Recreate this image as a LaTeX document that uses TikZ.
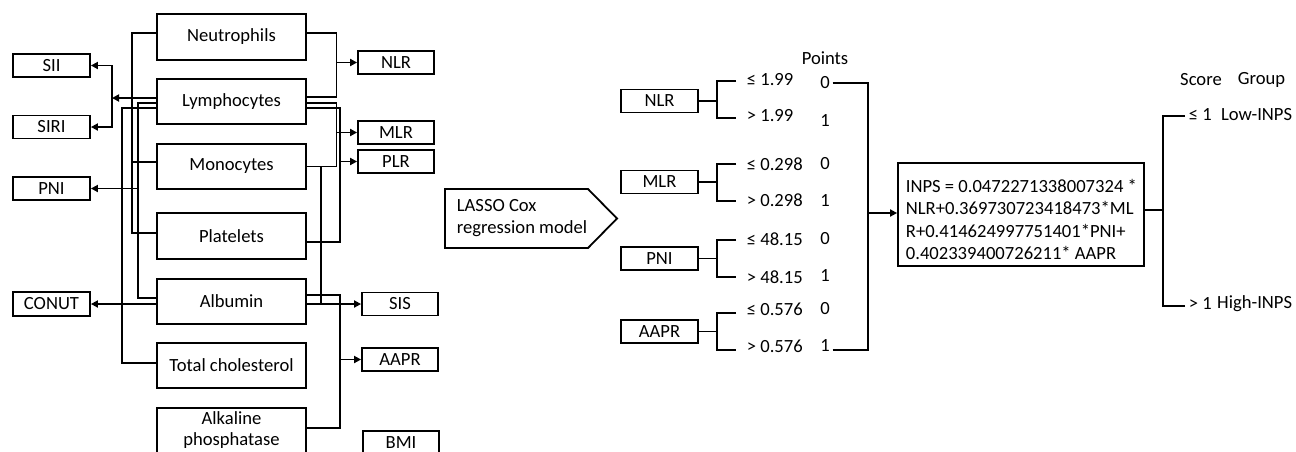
\documentclass[tikz,border=0pt]{standalone}
\usepackage{fontspec}
\setmainfont{Carlito}
\usetikzlibrary{arrows.meta}
\begin{document}
\begin{tikzpicture}[x=1pt,y=-1pt,line width=1.8pt,
  txt/.style={font=\fontsize{18.6}{22.4}\selectfont,inner sep=0pt},
  box/.style 2 args={draw,txt,minimum width=#1,minimum height=#2},
  arr/.style={-{Triangle[length=7pt,width=7pt]}}]
\useasboundingbox (0,0) rectangle (1296,451);
\clip (0,0) rectangle (1296,451);

% blood parameters
\node[box={149pt}{46pt}] (neu)  at (231.5,37)    {Neutrophils};
\node[box={149pt}{45pt}] (lym)  at (231.5,101.5) {Lymphocytes};
\node[box={149pt}{45pt}] (mono) at (231.5,166.5) {Monocytes};
\node[box={149pt}{46pt}] (plt)  at (231.5,236)   {Platelets};
\node[box={149pt}{45pt}] (alb)  at (231.5,301.5) {Albumin};
\node[box={149pt}{45pt}] (chol) at (231.5,365.5) {Total cholesterol};
\node[box={149pt}{45pt},align=center,font=\fontsize{18.6}{21}\selectfont] (alp) at (231.5,430.5) {Alkaline\\phosphatase};

% indices on the left
\node[box={77pt}{23pt}] (sii)   at (51.5,65.5) {SII};
\node[box={77pt}{23pt}] (siri)  at (51.5,127)  {SIRI};
\node[box={77pt}{23pt}] (pnil)  at (51.5,188.5){PNI};
\node[box={77pt}{24pt}] (conut) at (51.5,304)  {CONUT};

% indices on the right
\node[box={76pt}{23pt}] (nlrl)  at (396,62.5)  {NLR};
\node[box={76pt}{23pt}] (mlrl)  at (396,132.5) {MLR};
\node[box={76pt}{23pt}] (plrl)  at (396,161.5) {PLR};
\node[box={76pt}{23pt}] (sisl)  at (400,304)   {SIS};
\node[box={76pt}{23pt}] (aaprl) at (400,359.5) {AAPR};
\node[box={76pt}{23pt}] (bmi)   at (401,442.5) {BMI};

% wiring, left side
\draw ([yshift=4pt]neu.west) -| (132,233) -- ([yshift=3pt]plt.west);
\draw (132,162) -- ([yshift=4.5pt]mono.west);
\coordinate (jS) at (112,98);
\draw[arr] ([yshift=3.5pt]lym.west) -- (jS);
\draw[arr] (jS) |- (sii.east);
\draw[arr] (jS) |- (siri.east);
\draw ([yshift=-1.5pt]lym.west) -| (138,298) -- ([yshift=3.5pt]alb.west);
\coordinate (jP) at (138,188.5);
\draw[arr] (jP) -- (pnil.east);
\draw ([yshift=-6.5pt]lym.west) -| (122,363) -- ([yshift=2.5pt]chol.west);
\draw[arr] ([yshift=-2.5pt]alb.west) -- (conut.east);

% wiring, right side
\draw ([yshift=4pt]neu.east) -| (336.5,97) -- ([yshift=4.5pt]lym.east);
\draw[arr] (336.5,62.5) -- (nlrl.west);
\draw ([yshift=-1.5pt]lym.east) -| (336.5,166.5) -- (mono.east);
\draw[arr] (336.5,132.5) -- (mlrl.west);
\draw ([yshift=-6.5pt]lym.east) -| (340,242) -- ([yshift=-6pt]plt.east);
\draw[arr] (340,161.5) -- (plrl.west);
\draw (321,166.5) -- (321,304);
\draw[arr] ([yshift=-2.5pt]alb.east) -- (sisl.west);
\draw ([yshift=6.5pt]alb.east) -| (340,428) -- ([yshift=2.5pt]alp.east);
\draw[arr] (340,359.5) -- (aaprl.west);

% model
\draw (445,189) -- (588,189) -- (617,218.5) -- (588,248) -- (445,248) -- cycle;
\node[txt,anchor=west,align=left,font=\fontsize{18.6}{22}\selectfont] (lasso) at (456,218) {LASSO Cox\\regression model};

\node[box={77pt}{23pt}] (nlrm)  at (659.5,101)   {NLR};
\node[box={77pt}{23pt}] (mlrm)  at (659.5,182)   {MLR};
\node[box={77pt}{23pt}] (pnim)  at (659.5,258.5) {PNI};
\node[box={77pt}{23pt}] (aaprm) at (659.5,331.5) {AAPR};

% cut-offs
\node[txt,anchor=west] (t1) at (746,80)  {≤ 1.99};
\node[txt,anchor=west] (t2) at (746,116) {> 1.99};
\node[txt,anchor=west] (t3) at (746,164) {≤ 0.298};
\node[txt,anchor=west] (t4) at (746,200) {> 0.298};
\node[txt,anchor=west] (t5) at (746,239) {≤ 48.15};
\node[txt,anchor=west] (t6) at (746,277) {> 48.15};
\node[txt,anchor=west] (t7) at (746,309) {≤ 0.576};
\node[txt,anchor=west] (t8) at (746,346) {> 0.576};

\draw (nlrm.east) -- (717,101);  \draw (736,81)  -| (717,118) -- (736,118);
\draw (mlrm.east) -- (717,182);  \draw (736,164) -| (717,201) -- (736,201);
\draw (pnim.east) -- (717,258.5);\draw (736,240) -| (717,277) -- (736,277);
\draw (aaprm.east) -- (717,331.5);\draw (736,313) -| (717,350) -- (736,350);

% points
\node[txt] (pts) at (825,58) {Points};
\node[txt,inner sep=2pt] (p1) at (825,83)  {0};
\node[txt,inner sep=2pt] (p2) at (825,121) {1};
\node[txt,inner sep=2pt] (p3) at (825,164) {0};
\node[txt,inner sep=2pt] (p4) at (825,201) {1};
\node[txt,inner sep=2pt] (p5) at (825,239) {0};
\node[txt,inner sep=2pt] (p6) at (825,276) {1};
\node[txt,inner sep=2pt] (p7) at (825,309) {0};
\node[txt,inner sep=2pt] (p8) at (825,346) {1};

\coordinate (jR) at (868,213);
\draw (p1.east) -| (jR);
\draw ([yshift=-4pt]p8.east) -| (jR);

% score
\node[draw,minimum width=246pt,minimum height=103pt,inner sep=0pt] (inps) at (1021,214.5) {};
\node[txt,anchor=west,align=left] (formula) at (905,219.5)
  {INPS = 0.0472271338007324 *\\NLR+0.369730723418473*ML\\R+0.414624997751401*PNI+\\0.402339400726211* AAPR};
\draw[arr] (jR) -- (jR -| inps.west);

% risk groups
\node[txt] (score) at (1201,80) {Score};
\node[txt] (group) at (1261.5,80) {Group};
\node[txt,anchor=west] (s1) at (1188,115) {≤ 1};
\node[txt,anchor=east] (g1) at (1293,115) {Low-INPS};
\node[txt,anchor=west] (s2) at (1188,304) {> 1};
\node[txt,anchor=east] (g2) at (1293,304) {High-INPS};

\coordinate (jG) at (1163,210);
\draw ([yshift=4.5pt]inps.east) -- (jG);
\draw ([xshift=-3pt,yshift=-1pt]s1.west) -| (jG);
\draw ([xshift=-3pt,yshift=-2pt]s2.west) -| (jG);
\end{tikzpicture}
\end{document}
